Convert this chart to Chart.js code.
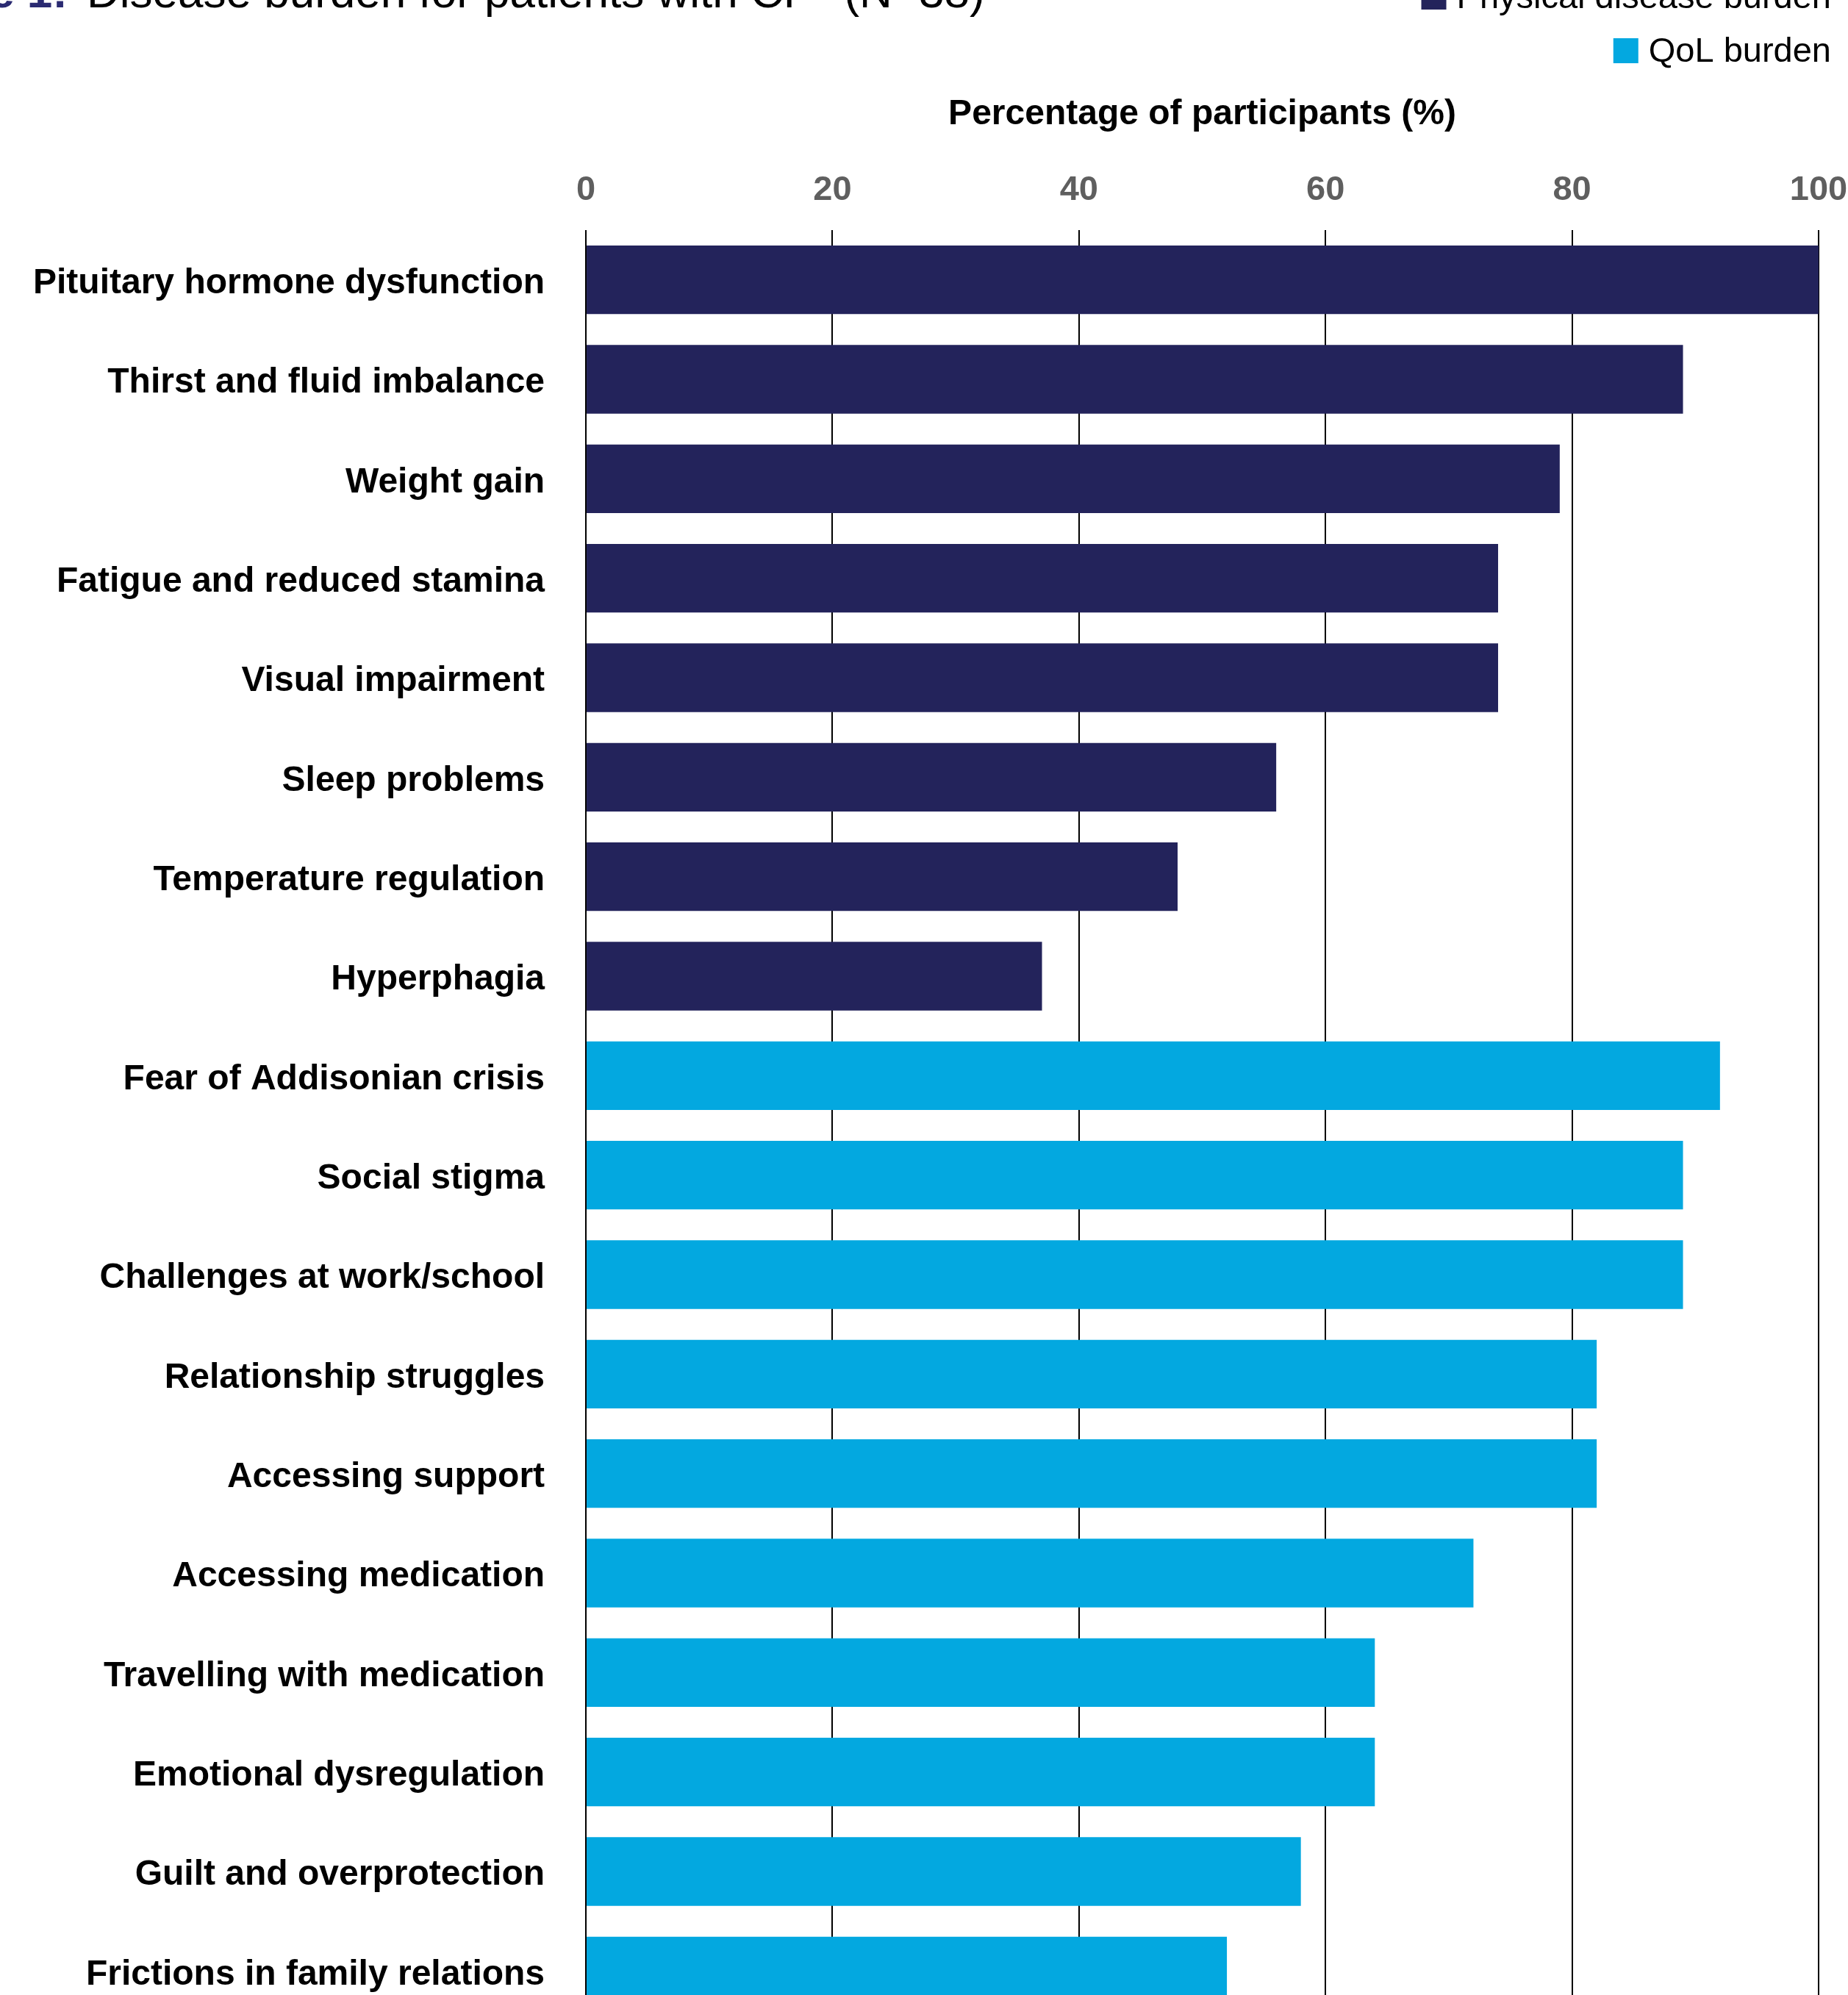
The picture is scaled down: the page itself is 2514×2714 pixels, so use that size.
<!DOCTYPE html>
<html>
<head>
<meta charset="utf-8">
<title>Disease burden for patients with CP</title>
<script src="https://cdn.jsdelivr.net/npm/chart.js@4.4.1/dist/chart.umd.min.js"></script>
<style>
  html, body { margin: 0; padding: 0; background: #ffffff; overflow: hidden; }
  .frame { width: 2514px; height: 2714px; overflow: hidden; position: relative; }
  canvas { display: block; }
</style>
</head>
<body>
<div class="frame">
  <canvas id="burdenChart" width="2514" height="2779"></canvas>
</div>
<script>
const categories = [
  'Pituitary hormone dysfunction',
  'Thirst and fluid imbalance',
  'Weight gain',
  'Fatigue and reduced stamina',
  'Visual impairment',
  'Sleep problems',
  'Temperature regulation',
  'Hyperphagia',
  'Fear of Addisonian crisis',
  'Social stigma',
  'Challenges at work/school',
  'Relationship struggles',
  'Accessing support',
  'Accessing medication',
  'Travelling with medication',
  'Emotional dysregulation',
  'Guilt and overprotection',
  'Frictions in family relations',
];

const physicalValues = [100, 89, 79, 74, 74, 56, 48, 37, null, null, null, null, null, null, null, null, null, null];
const qolValues = [null, null, null, null, null, null, null, null, 92, 89, 89, 82, 82, 72, 64, 64, 58, 52];

const xTickValues = [0, 20, 40, 60, 80, 100];

const seriesNames = ['Physical disease burden', 'QoL burden'];
const navy = '#23235b';
const cyan = '#03a8e0';
const fontFamily = "'Liberation Sans', Arial, Helvetica, sans-serif";

// cropped figure caption at the very top
const captionPlugin = {
  id: 'caption',
  afterDraw(chart) {
    const c = chart.ctx;
    c.save();
    c.textBaseline = 'alphabetic';
    c.font = 'bold 62px ' + fontFamily;
    c.fillStyle = '#2b2b72';
    c.textAlign = 'right';
    c.fillText('Figure 1:', 92, 10);
    c.font = '62px ' + fontFamily;
    c.fillStyle = '#000000';
    c.textAlign = 'left';
    c.fillText('Disease burden for patients with CP* (N=38)', 118, 10);
    c.restore();
  },
};

// legend: one item per row, right aligned
const stackedLegend = {
  id: 'stackedLegend',
  afterDraw(chart) {
    const c = chart.ctx;
    const right = chart.width - 23;
    const rows = [-4, 69];
    const box = 34;
    c.save();
    c.font = '47px ' + fontFamily;
    c.textBaseline = 'middle';
    chart.data.datasets.forEach((ds, i) => {
      const w = c.measureText(ds.label).width;
      const textX = right - w;
      const boxX = textX - 14 - box;
      c.fillStyle = ds.backgroundColor;
      c.fillRect(boxX, rows[i] - box / 2, box, box);
      c.fillStyle = '#000000';
      c.textAlign = 'left';
      c.fillText(ds.label, textX, rows[i] + 2);
    });
    c.restore();
  },
};

const ctx = document.getElementById('burdenChart').getContext('2d');

new Chart(ctx, {
  type: 'bar',
  data: {
    labels: categories,
    datasets: [
      {
        label: seriesNames[0],
        data: physicalValues,
        backgroundColor: navy,
        borderWidth: 0,
      },
      {
        label: seriesNames[1],
        data: qolValues,
        backgroundColor: cyan,
        borderWidth: 0,
      },
    ],
  },
  options: {
    indexAxis: 'y',
    responsive: false,
    animation: false,
    grouped: false,
    categoryPercentage: 1,
    barPercentage: 0.69,
    layout: {
      padding: { top: 123, left: 45, right: 40, bottom: 30 },
    },
    plugins: {
      legend: { display: false },
      tooltip: { enabled: false },
    },
    scales: {
      x: {
        position: 'top',
        min: xTickValues[0],
        max: xTickValues[xTickValues.length - 1],
        afterBuildTicks(scale) {
          scale.ticks = xTickValues.map((v) => ({ value: v }));
        },
        ticks: {
          color: '#5f5f5f',
          padding: 0,
          font: { family: fontFamily, size: 47, weight: 'bold' },
        },
        grid: {
          color: '#000000',
          lineWidth: 2,
          drawTicks: true,
          tickLength: 26,
          tickColor: 'rgba(0,0,0,0)',
        },
        border: { display: false },
        title: {
          display: true,
          text: 'Percentage of participants (%)',
          color: '#000000',
          font: { family: fontFamily, size: 48, weight: 'bold' },
          padding: { top: 4, bottom: 46 },
        },
      },
      y: {
        ticks: {
          color: '#000000',
          padding: 0,
          labelOffset: 5,
          autoSkip: false,
          font: { family: fontFamily, size: 48, weight: 'bold' },
        },
        grid: { display: false, drawTicks: true, tickLength: 56 },
        border: { display: false },
      },
    },
  },
  plugins: [captionPlugin, stackedLegend],
});
</script>
</body>
</html>
